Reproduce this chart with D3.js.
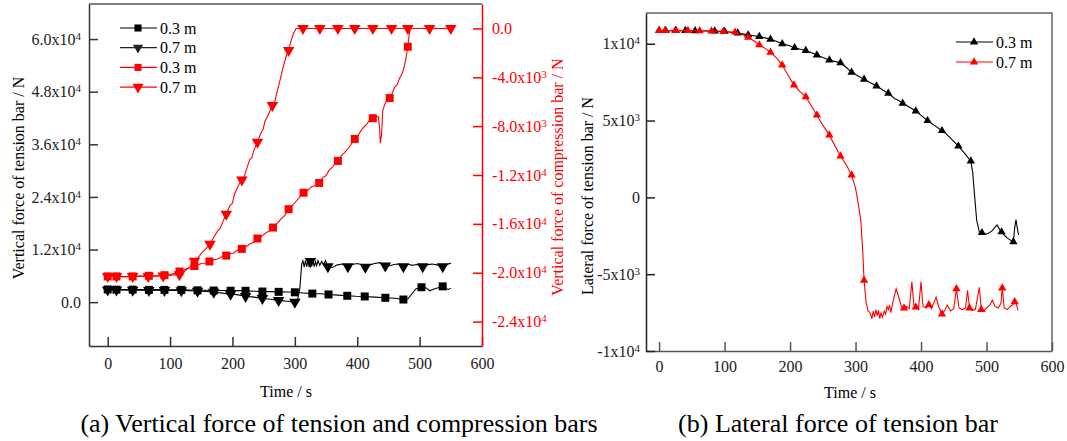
<!DOCTYPE html>
<html>
<head>
<meta charset="utf-8">
<script src="https://cdn.jsdelivr.net/npm/d3@7"></script>
<style>
    body { margin: 0; background: #fff; }
    svg text { font-family: "Liberation Serif", "Times New Roman", serif; }
</style>
</head>
<body>
<div id="chart"></div>
<script>
// ---------- panel (a): vertical force, [time s, force N] ----------
const tension03 = [[0,2900],[5,2950],[14,2850],[27,2900],[40,2850],[53,2850],[66,2800],[78,2850],[91,2800],[104,2800],[118,2800],[131,2750],[144,2700],[157,2700],[170,2650],[184,2650],[197,2600],[209,2620],[221,2580],[235,2500],[248,2420],[261,2400],[274,2350],[287,2300],[300,2250],[314,2100],[328,1950],[341,1900],[354,1750],[369,1600],[384,1450],[398,1350],[412,1300],[428,1150],[445,1000],[460,900],[474,600],[481,700],[487,1800],[494,3000],[503,3400],[510,3300],[516,2600],[523,3000],[530,3300],[537,3600],[542,3100],[546,2900],[550,3200]]
const tension07 = [[0,2800],[14,2800],[27,2780],[40,2750],[53,2720],[66,2700],[78,2720],[91,2700],[104,2680],[118,2650],[131,2600],[144,2550],[157,2450],[170,2300],[184,2050],[197,1850],[209,1650],[221,1350],[235,1150],[248,850],[261,650],[274,400],[288,200],[300,0],[304,300],[308,3200],[311,8700],[313,9400],[315,8000],[317,9500],[319,8100],[321,9400],[323,8000],[325,9300],[327,8200],[329,9500],[331,8100],[333,9200],[335,8300],[337,9500],[340,8400],[343,9300],[346,8500],[349,9500],[353,8100],[357,7900],[362,8000],[368,8500],[376,8700],[385,8100],[392,8600],[400,8800],[406,8600],[413,8000],[420,8500],[428,8800],[436,9000],[445,8300],[452,8300],[459,8600],[466,8700],[474,8100],[481,8700],[488,8400],[495,8600],[505,8100],[512,8500],[520,8700],[528,8500],[537,8100],[544,8600],[550,8900]]
const compression03 = [[0,-20300],[14,-20300],[27,-20320],[40,-20300],[53,-20280],[66,-20250],[78,-20250],[91,-20200],[100,-20150],[108,-20050],[115,-19900],[121,-19800],[127,-19650],[133,-19600],[139,-19450],[145,-19380],[150,-19250],[157,-19200],[163,-19080],[170,-18950],[176,-18880],[183,-18700],[190,-18600],[196,-18450],[202,-18380],[208,-18150],[215,-18050],[221,-17900],[228,-17650],[234,-17500],[240,-17200],[246,-17050],[252,-16800],[258,-16600],[265,-16300],[271,-16000],[278,-15600],[284,-15300],[290,-14800],[296,-14500],[302,-14150],[308,-13800],[314,-13450],[320,-13300],[326,-13000],[332,-12850],[339,-12650],[345,-12200],[350,-12050],[355,-11600],[360,-11350],[365,-11050],[369,-10850],[375,-10400],[380,-10150],[385,-9850],[390,-9500],[396,-9050],[401,-8800],[405,-8450],[410,-8100],[415,-7850],[420,-7500],[425,-7350],[430,-7200],[434,-7250],[436,-8300],[437,-9400],[439,-8700],[441,-6700],[445,-6100],[449,-5900],[452,-5700],[456,-5300],[460,-4800],[464,-4600],[468,-4050],[472,-3700],[475,-3200],[478,-2500],[481,-1500],[483,-600],[485,0],[520,0],[550,0]]
const compression07 = [[0,-20300],[14,-20300],[27,-20320],[40,-20300],[53,-20300],[65,-20300],[78,-20280],[89,-20250],[102,-20200],[115,-20150],[120,-20000],[125,-19800],[132,-19500],[139,-19050],[146,-18700],[152,-18300],[158,-18000],[164,-17650],[170,-17100],[176,-16600],[180,-16400],[184,-15900],[190,-15200],[196,-14500],[200,-14300],[203,-13600],[209,-12900],[215,-12400],[219,-12100],[222,-11600],[228,-10700],[231,-10600],[234,-10000],[240,-9300],[246,-8500],[249,-8300],[252,-7600],[258,-7000],[264,-6300],[267,-6200],[270,-5500],[276,-4300],[281,-3200],[286,-2300],[290,-1800],[294,-1000],[298,-400],[302,0],[313,0],[340,0],[369,0],[396,0],[425,0],[455,0],[481,0],[516,0],[550,0]]

const timeTicks = [0, 100, 200, 300, 400, 500, 600]
const tensionTicks = [0, 12000, 24000, 36000, 48000, 60000]
const tensionTickLabels = [["0.0", ""], ["1.2x10", "4"], ["2.4x10", "4"], ["3.6x10", "4"], ["4.8x10", "4"], ["6.0x10", "4"]]
const compressionTicks = [0, -4000, -8000, -12000, -16000, -20000, -24000]
const compressionTickLabels = [["0.0", ""], ["-4.0x10", "3"], ["-8.0x10", "3"], ["-1.2x10", "4"], ["-1.6x10", "4"], ["-2.0x10", "4"], ["-2.4x10", "4"]]

// times where the original plot carries a symbol
const tension03Marks = [0,14,40,66,91,118,144,170,197,221,248,274,300,328,354,384,412,445,474,503,537]
const tension07Marks = [0,14,40,66,91,118,144,170,197,221,248,274,300,325,353,385,413,445,474,505,537]
const compression03Marks = [0,14,40,66,91,115,139,163,190,215,240,265,290,314,339,369,396,425,452,481]
const compression07Marks = [0,14,40,65,89,115,139,164,190,215,240,264,290,313,340,369,396,425,455,481,516,543]

// ---------- panel (b): lateral force of tension bar ----------
const lateral03 = [[0,10850],[10,10850],[25,10850],[40,10850],[55,10840],[70,10830],[85,10820],[100,10800],[110,10750],[120,10700],[128,10640],[136,10570],[145,10520],[153,10460],[162,10380],[170,10290],[180,10150],[188,10000],[198,9880],[207,9740],[216,9640],[224,9560],[232,9430],[241,9260],[250,9100],[260,8940],[268,8850],[277,8760],[286,8450],[294,8140],[304,7900],[313,7680],[322,7480],[332,7250],[341,7000],[350,6770],[360,6420],[366,6300],[372,6120],[382,5880],[392,5620],[401,5300],[410,4990],[420,4700],[432,4340],[438,4150],[445,3850],[457,3340],[467,2850],[476,2360],[479,1600],[482,0],[485,-1500],[489,-2250],[493,-2300],[500,-2400],[508,-2200],[516,-1800],[520,-2100],[523,-2250],[528,-2500],[532,-2650],[537,-2800],[541,-2900],[543,-2000],[545,-1450],[547,-2000],[549,-2450]]
const lateral07 = [[0,10850],[9,10850],[26,10850],[44,10850],[62,10840],[80,10830],[98,10800],[116,10750],[126,10620],[136,10420],[145,10180],[153,9920],[162,9700],[170,9440],[180,9050],[188,8610],[197,7950],[206,7310],[215,6900],[224,6540],[232,6000],[241,5350],[250,4700],[260,4050],[268,3400],[277,2690],[286,2100],[294,1450],[300,600],[304,-400],[308,-1500],[311,-3500],[313,-5400],[316,-6800],[319,-7400],[322,-7500],[325,-7900],[327,-7400],[329,-7800],[331,-7300],[333,-7700],[335,-7350],[337,-7900],[339,-7500],[341,-7800],[344,-7400],[346,-7600],[348,-7100],[350,-7300],[352,-7000],[354,-7500],[357,-6800],[362,-5950],[366,-6500],[370,-7100],[374,-7200],[378,-7100],[382,-7250],[386,-5500],[389,-7000],[392,-7150],[396,-7300],[400,-5500],[403,-7100],[408,-7200],[412,-7000],[416,-7250],[420,-6800],[423,-6500],[427,-7100],[432,-7600],[437,-7300],[440,-7000],[445,-7400],[450,-7250],[454,-5950],[458,-7200],[463,-7300],[468,-7200],[471,-6050],[474,-7200],[478,-7350],[483,-7300],[489,-5850],[492,-7300],[496,-7400],[500,-7200],[505,-7000],[509,-6700],[513,-7100],[518,-7200],[522,-6900],[524,-5900],[527,-7200],[532,-7300],[536,-7100],[540,-7000],[543,-6800],[546,-7000],[548,-7350]]
const lateral03Marks = [0,9,26,44,62,80,98,116,136,153,170,188,207,224,241,260,277,294,313,332,350,372,392,410,432,457,476,493,523,541]
const lateral07Marks = [0,9,26,44,62,80,98,116,136,153,170,188,206,224,241,260,277,294,313,374,392,411,432,454,476,494,524,543]
const lateralTicks = [-10000, -5000, 0, 5000, 10000]
const lateralTickLabels = [["-1x10", "4"], ["-5x10", "3"], ["0", ""], ["5x10", "3"], ["1x10", "4"]]

const captions = ["(a) Vertical force of tension and compression bars", "(b) Lateral force of tension bar"]

let width = 1067,
    height = 441;

let svg = d3.select("#chart")
    .append("svg")
    .attr("width", width)
    .attr("height", height)
    .style("font-family", '"Liberation Serif", "Times New Roman", serif')

const RED = "#ff0000"
const FS = 16

function styleTicks(g, labels, color) {
    g.attr("font-size", FS).attr("font-family", null)
    g.selectAll(".tick text").each(function (d, i) {
        let t = d3.select(this).attr("fill", color)
        if (!labels) return
        t.text(labels[i][0])
        if (labels[i][1]) {
            t.append("tspan").attr("dy", "-0.45em").attr("font-size", "11px").text(labels[i][1])
        }
    })
}

function drawSeries(g, data, marks, x, y, color, shape, size) {
    let line = d3.line().x(d => x(d[0])).y(d => y(d[1]))
    g.append("path")
        .datum(data)
        .attr("fill", "none")
        .attr("stroke", color)
        .attr("stroke-width", 1.1)
        .attr("d", line)

    let sym = d3.symbol().type(shape === "square" ? d3.symbolSquare : d3.symbolTriangle).size(size)
    let pts = marks.map(t => d3.least(data, p => Math.abs(p[0] - t)))
    g.selectAll(null)
        .data(pts)
        .enter().append("path")
        .attr("d", sym)
        .attr("fill", color)
        .attr("transform", d => `translate(${x(d[0])},${y(d[1])})` + (shape === "down" ? " rotate(180)" : ""))
}

function legend(g, items, x0, y0, step) {
    items.forEach((it, i) => {
        let y = y0 + i * step
        g.append("line").attr("x1", x0).attr("x2", x0 + 37).attr("y1", y).attr("y2", y)
            .attr("stroke", it.color).attr("stroke-width", 1.2)
        let sym = d3.symbol().type(it.shape === "square" ? d3.symbolSquare : d3.symbolTriangle).size(it.size)
        g.append("path").attr("d", sym).attr("fill", it.color)
            .attr("transform", `translate(${x0 + 18},${y})` + (it.shape === "down" ? " rotate(180)" : ""))
        g.append("text").attr("x", x0 + 40).attr("y", y).attr("dy", "0.35em")
            .attr("font-size", FS).text(it.label)
    })
}

// ---------------- panel (a) ----------------
const aLeft = 89, aRight = 482, aTop = 4, aBottom = 346

let xA = d3.scaleLinear().domain([-30, 600]).range([aLeft, aRight])
let yT = d3.scaleLinear().domain([-10000, 68000]).range([aBottom, aTop])
let yC = d3.scaleLinear().domain([-26000, 2000]).range([aBottom, aTop])

let gA = svg.append("g")

gA.append("line").attr("x1", aLeft).attr("x2", aRight).attr("y1", aTop).attr("y2", aTop)
    .attr("stroke", "#555").attr("stroke-width", 1.5)

let axA = gA.append("g").attr("transform", `translate(0,${aBottom})`)
    .call(d3.axisBottom(xA).tickValues(timeTicks).tickFormat(d3.format("d")).tickSize(-9).tickSizeOuter(0).tickPadding(12))
styleTicks(axA, null, "#222")
axA.selectAll("path,line").attr("stroke", "#333").attr("stroke-width", 1.5)

let ayT = gA.append("g").attr("transform", `translate(${aLeft},0)`)
    .call(d3.axisLeft(yT).tickValues(tensionTicks).tickSize(-9).tickSizeOuter(0).tickPadding(8))
styleTicks(ayT, tensionTickLabels, "#222")
ayT.selectAll("path,line").attr("stroke", "#333").attr("stroke-width", 1.5)

let ayC = gA.append("g").attr("transform", `translate(${aRight},0)`)
    .call(d3.axisRight(yC).tickValues(compressionTicks).tickSize(-9).tickSizeOuter(0).tickPadding(10))
styleTicks(ayC, compressionTickLabels, RED)
ayC.selectAll("path,line").attr("stroke", RED).attr("stroke-width", 1.5)

drawSeries(gA, tension03, tension03Marks, xA, yT, "#000", "square", 64)
drawSeries(gA, tension07, tension07Marks, xA, yT, "#000", "down", 58)
drawSeries(gA, compression03, compression03Marks, xA, yC, RED, "square", 64)
drawSeries(gA, compression07, compression07Marks, xA, yC, RED, "down", 58)

legend(gA, [
    { label: "0.3 m", color: "#000", shape: "square", size: 50 },
    { label: "0.7 m", color: "#222", shape: "down", size: 45 },
    { label: "0.3 m", color: RED, shape: "square", size: 50 },
    { label: "0.7 m", color: RED, shape: "down", size: 55 }
], 120, 28, 19.7)

gA.append("text").attr("transform", "translate(24,178) rotate(-90)")
    .attr("text-anchor", "middle").attr("font-size", FS).text("Vertical force of tension bar / N")
gA.append("text").attr("transform", "translate(563,177) rotate(-90)")
    .attr("text-anchor", "middle").attr("font-size", FS).attr("fill", RED).text("Vertical force of compression bar / N")
gA.append("text").attr("x", 286).attr("y", 397)
    .attr("text-anchor", "middle").attr("font-size", FS).text("Time / s")

// ---------------- panel (b) ----------------
const bLeft = 646, bRight = 1052, bTop = 13, bBottom = 351

let xB = d3.scaleLinear().domain([-20, 600]).range([bLeft, bRight])
let yB = d3.scaleLinear().domain([-10000, 12000]).range([bBottom, bTop])

let gB = svg.append("g")

gB.append("path").attr("d", `M${bLeft},${bTop}H${bRight}V${bBottom}`).attr("fill", "none")
    .attr("stroke", "#666").attr("stroke-width", 1.5)

let axB = gB.append("g").attr("transform", `translate(0,${bBottom})`)
    .call(d3.axisBottom(xB).tickValues(timeTicks).tickFormat(d3.format("d")).tickSize(-9).tickSizeOuter(0).tickPadding(10))
styleTicks(axB, null, "#222")
axB.selectAll("path,line").attr("stroke", "#555").attr("stroke-width", 1.5)

let ayB = gB.append("g").attr("transform", `translate(${bLeft},0)`)
    .call(d3.axisLeft(yB).tickValues(lateralTicks).tickSize(-9).tickSizeOuter(0).tickPadding(6))
styleTicks(ayB, lateralTickLabels, "#222")
ayB.selectAll("path,line").attr("stroke", "#222").attr("stroke-width", 1.5)

drawSeries(gB, lateral03, lateral03Marks, xB, yB, "#000", "up", 30)
drawSeries(gB, lateral07, lateral07Marks, xB, yB, RED, "up", 30)

legend(gB, [
    { label: "0.3 m", color: "#000", shape: "up", size: 30 },
    { label: "0.7 m", color: RED, shape: "up", size: 30 }
], 956, 42, 20)

gB.append("text").attr("transform", "translate(593,196) rotate(-90)")
    .attr("text-anchor", "middle").attr("font-size", FS).text("Lateral force of tension bar / N")
gB.append("text").attr("x", 850).attr("y", 398)
    .attr("text-anchor", "middle").attr("font-size", FS).text("Time / s")

// captions
svg.append("text").attr("x", 339).attr("y", 432).attr("text-anchor", "middle")
    .attr("font-size", 26).text(captions[0])
svg.append("text").attr("x", 838).attr("y", 432).attr("text-anchor", "middle")
    .attr("font-size", 26).text(captions[1])
</script>
</body>
</html>
